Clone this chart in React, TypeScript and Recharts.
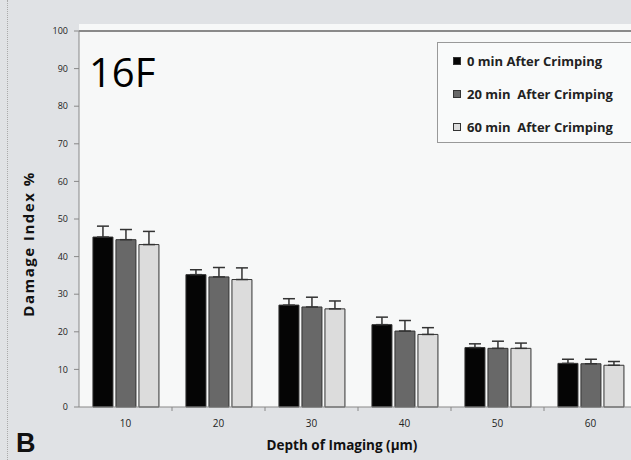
import React from 'react';
import { BarChart, Bar, XAxis, YAxis, ErrorBar, Legend, ReferenceLine } from 'recharts';

const DEPTHS = ['10', '20', '30', '40', '50', '60'];
const MIN0 = [45.2, 35.2, 27.1, 21.9, 15.8, 11.6];
const MIN20 = [44.5, 34.6, 26.6, 20.2, 15.6, 11.5];
const MIN60 = [43.2, 33.9, 26.1, 19.3, 15.6, 11.1];
const ERR0 = [2.9, 1.3, 1.7, 2.0, 1.0, 1.1];
const ERR20 = [2.7, 2.5, 2.6, 2.8, 1.9, 1.2];
const ERR60 = [3.5, 3.1, 2.1, 1.8, 1.4, 1.0];
const Y_TICKS = [0, 10, 20, 30, 40, 50, 60, 70, 80, 90, 100];

const SERIES = [
  { key: 'm0', err: 'e0', name: '0 min After Crimping', fill: '#050505' },
  { key: 'm20', err: 'e20', name: '20 min  After Crimping', fill: '#686868' },
  { key: 'm60', err: 'e60', name: '60 min  After Crimping', fill: '#dcdcdc' },
];

const data = DEPTHS.map((d, i) => ({
  depth: d,
  m0: MIN0[i],
  m20: MIN20[i],
  m60: MIN60[i],
  e0: [0, ERR0[i]],
  e20: [0, ERR20[i]],
  e60: [0, ERR60[i]],
}));

const FONT = '"Open Sans", "DejaVu Sans", sans-serif';
const BAND = 558 / DEPTHS.length;

function XTick(props: any) {
  const { x, y, payload } = props;
  return (
    <g>
      <line x1={x + BAND / 2} y1={407} x2={x + BAND / 2} y2={411} stroke="#888" />
      <text x={x} y={y} dy={12} textAnchor="middle" fontSize={10} fill="#222" fontFamily={FONT}>
        {payload.value}
      </text>
    </g>
  );
}

function LegendBox(props: any) {
  const items = props.payload || [];
  return (
    <div
      style={{
        border: '1px solid #999',
        background: '#f9fafa',
        padding: '1px 0 0 15px',
        width: 196,
        height: 101,
        boxSizing: 'border-box',
      }}
    >
      {items.map((it: any) => (
        <div key={it.value} style={{ display: 'flex', alignItems: 'center', height: 33, fontFamily: FONT, fontSize: 13, fontWeight: 700, color: '#222', whiteSpace: 'pre' }}>
          <span style={{ width: 6, height: 6, background: it.color, border: '1px solid #333', marginRight: 6 }} />
          {it.value}
        </div>
      ))}
    </div>
  );
}

// axis titles
const yTitle = () => (
  <text x={34} y={244} transform="rotate(-90 34 244)" textAnchor="middle" fontFamily={FONT} fontSize={15} fontWeight={700} letterSpacing={1.5} fill="#111">
    Damage Index %
  </text>
);

const xTitle = () => (
  <text x={342} y={450} textAnchor="middle" fontFamily={FONT} fontSize={13.5} fontWeight={700} fill="#111">
    Depth of Imaging (&micro;m)
  </text>
);

export default function App() {
  return (
    <div style={{ position: 'absolute', left: 0, top: 0, width: 631, height: 460, overflow: 'hidden', background: '#e0e2e5' }}>
      <div style={{ position: 'absolute', left: 7, top: 0, bottom: 0, borderLeft: '1px dotted #aaa' }} />
      <div style={{ position: 'absolute', left: 79, top: 24, width: 560, height: 383, background: '#f7f8f8' }} />
      <div style={{ position: 'absolute', left: 89, top: 44, fontFamily: FONT, fontSize: 40, color: '#000' }}>16F</div>
      <div style={{ position: 'absolute', left: 16, top: 428, lineHeight: '30px', fontFamily: '"Liberation Sans", Arial, sans-serif', fontWeight: 700, fontSize: 27, color: '#111' }}>B</div>
      <div style={{ position: 'absolute', left: 0, top: 0 }}>
        <BarChart
          width={645}
          height={460}
          data={data}
          margin={{ top: 31, right: 8, bottom: 23, left: 19 }}
          barCategoryGap="15%"
          barGap={3}
        >
          <XAxis
            dataKey="depth"
            height={30}
            tickLine={false}
            axisLine={{ stroke: '#888' }}
            tick={<XTick />}
            interval={0}
            label={{ content: xTitle }}
          />
          <YAxis
            width={60}
            domain={[0, 100]}
            ticks={Y_TICKS}
            interval={0}
            tickSize={5}
            tickMargin={6}
            tickLine={{ stroke: '#888' }}
            axisLine={{ stroke: '#888' }}
            tick={{ fontFamily: FONT, fontSize: 9, fill: '#222' }}
            label={{ content: yTitle }}
          />
          <ReferenceLine y={100} stroke="#8a8a8a" strokeWidth={2} />
          {SERIES.map((s) => (
            <Bar key={s.key} dataKey={s.key} name={s.name} fill={s.fill} stroke="#333" strokeWidth={1} isAnimationActive={false}>
              <ErrorBar dataKey={s.err} direction="y" width={6} stroke="#333" strokeWidth={1.5} />
            </Bar>
          ))}
          <Legend
            layout="vertical"
            verticalAlign="middle"
            align="center"
            content={<LegendBox />}
            wrapperStyle={{ position: 'absolute', left: 437, top: 42, width: 196 }}
          />
        </BarChart>
      </div>
    </div>
  );
}
